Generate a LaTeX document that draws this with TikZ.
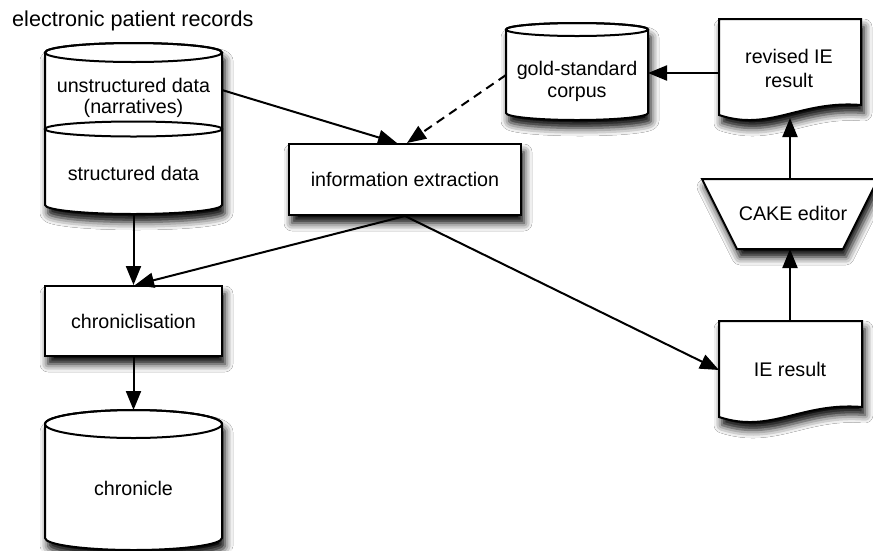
\documentclass[tikz,border=0pt]{standalone}
\usepackage{fontspec}
\setmainfont{Liberation Sans}
\usetikzlibrary{arrows.meta,shadows.blur}
\tikzset{
  lbl/.style={font=\fontsize{19.7}{23}\selectfont, inner sep=0pt},
  shp/.style={draw=black, line width=2pt, fill=white,
    blur shadow={shadow xshift=3pt, shadow yshift=-8pt, shadow blur radius=8pt, shadow opacity=100}},
  boxnode/.style={shp, rectangle, inner sep=0pt, font=\fontsize{19.7}{23}\selectfont},
  conn/.style={draw=black, line width=2pt, -{Triangle[length=19pt,width=15pt]}},
  dconn/.style={conn, dash pattern=on 9pt off 6pt},
}
\newcommand\mycylbody[6]{%
  \pgfmathsetmacro\mycx{(#1+#2)/2}%
  \pgfmathsetmacro\mykx{0.5523*(#2-#1)/2}%
  \path[shp] (#1,#3) -- (#1,#4)
    .. controls (#1,{#4+0.5523*#6}) and ({\mycx-\mykx},{#4+#6}) .. (\mycx,{#4+#6})
    .. controls ({\mycx+\mykx},{#4+#6}) and (#2,{#4+0.5523*#6}) .. (#2,#4)
    -- (#2,#3)
    .. controls (#2,{#3-0.5523*#5}) and ({\mycx+\mykx},{#3-#5}) .. (\mycx,{#3-#5})
    .. controls ({\mycx-\mykx},{#3-#5}) and (#1,{#3-0.5523*#5}) .. (#1,#3) -- cycle;
  \draw[line width=2pt] (\mycx,#3) ellipse [x radius={(#2-#1)/2}, y radius=#5];
}
\newcommand\mydocshape[4]{%
  \path[shp] (#1,#3) -- (#2,#3) -- (#2,{#4-10})
    .. controls ({#2-61},{#4-15}) and ({#2-91},{#4+17}) .. (#1,#4) -- cycle;
}
\begin{document}
\begin{tikzpicture}[x=1pt,y=-1pt]
\useasboundingbox[fill=white] (0,0) rectangle (873,550);

% title
\node[lbl, font=\fontsize{21.6}{26}\selectfont, anchor=base west] (title) at (12,26) {electronic patient records};

% electronic patient records cylinder
\mycylbody{45}{222}{52.5}{205}{9.5}{9}
\draw[line width=2pt] (133.5,129) ellipse [x radius=88.5, y radius=7.5];
\node[lbl, anchor=base] (eprU1) at (133.5,92) {unstructured data};
\node[lbl, anchor=base] (eprU2) at (133.5,113) {(narratives)};
\node[lbl, anchor=base] (eprS) at (133.5,180) {structured data};
\coordinate (epr-r) at (222,90);
\coordinate (epr-b) at (133.5,214);

% gold-standard corpus
\mycylbody{506}{648}{29.5}{113}{6.5}{7}
\node[lbl, anchor=base] (gold1) at (577,75) {gold-standard};
\node[lbl, anchor=base] (gold2) at (577,97) {corpus};
\coordinate (gold-l) at (506,75);
\coordinate (gold-r) at (648,73);

% revised IE result
\mydocshape{719}{861}{19}{115}
\node[lbl, anchor=base] (rev1) at (789,63) {revised IE};
\node[lbl, anchor=base] (rev2) at (789,87) {result};
\coordinate (rev-l) at (719,73);
\coordinate (rev-b) at (790,118);

% CAKE editor
\path[shp] (702,179) -- (878,179) -- (843,249) -- (737,249) -- cycle;
\node[lbl, anchor=base] (cake) at (793,220) {CAKE editor};
\coordinate (cake-t) at (790,179);
\coordinate (cake-b) at (790,249);

% IE result
\mydocshape{719}{862}{321}{417}
\node[lbl, anchor=base] (ieres) at (790,376) {IE result};
\coordinate (ier-t) at (790,321);
\coordinate (ier-l) at (719,370);

% information extraction
\node[boxnode, minimum width=232pt, minimum height=71pt] (infoext) at (405,179.5) {information extraction};

% chroniclisation
\node[boxnode, minimum width=177pt, minimum height=70pt] (chron) at (133.5,321) {chroniclisation};

% chronicle
\mycylbody{45}{222}{424}{538}{14}{12}
\node[lbl, anchor=base] (chronicle) at (133.5,495) {chronicle};
\coordinate (chr-t) at (133.5,410);

% connectors
\draw[conn] (epr-r) -- ([xshift=-8pt]infoext.north);
\draw[dconn] (gold-l) -- ([xshift=2pt]infoext.north);
\draw[conn] (rev-l) -- (gold-r);
\draw[conn] (cake-t) -- (rev-b);
\draw[conn] (ier-t) -- (cake-b);
\draw[conn] (infoext.south) -- (ier-l);
\draw[conn] (infoext.south) -- ([xshift=1.5pt]chron.north);
\draw[conn] (epr-b) -- (chron.north);
\draw[conn] (chron.south) -- (chr-t);
\end{tikzpicture}
\end{document}
